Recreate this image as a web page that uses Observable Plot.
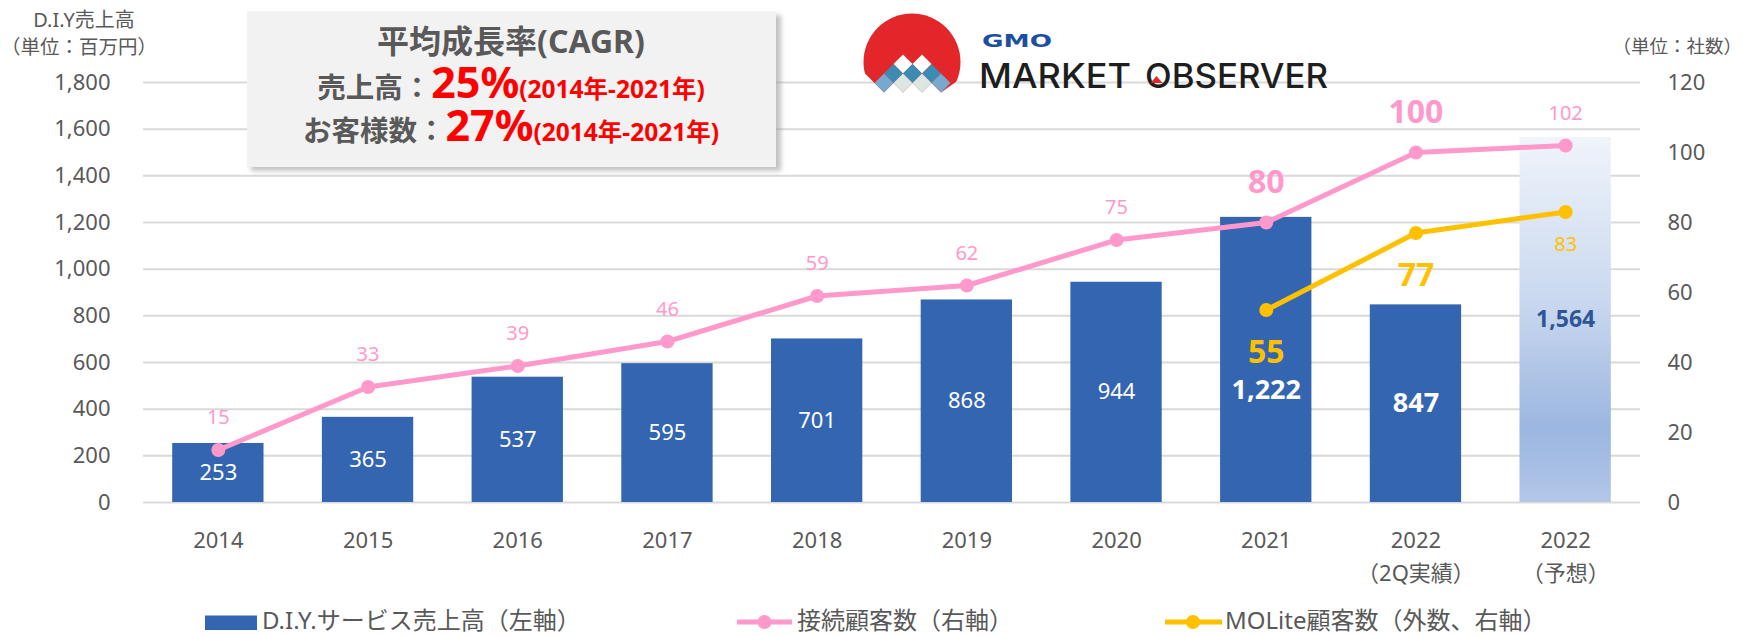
<!DOCTYPE html>
<html><head><meta charset="utf-8">
<script src="https://cdn.jsdelivr.net/npm/d3@7"></script>
<script src="https://cdn.jsdelivr.net/npm/@observablehq/plot@0.6"></script>
<style>
body{margin:0;background:#fff;}
#chart{position:relative;width:1742px;height:636px;overflow:hidden;}
</style>
</head><body><div id="chart"></div>
<script>
// ---- data ----
const categories = ["2014","2015","2016","2017","2018","2019","2020","2021","2022\n（2Q実績）","2022\n（予想）"];
const sales = [253,365,537,595,701,868,944,1222,847,1564];           // 百万円 (left axis)
const customers = [15,33,39,46,59,62,75,80,100,102];                 // 接続顧客数 (right axis)
const moliteCategories = ["2021","2022\n（2Q実績）","2022\n（予想）"];
const molite = [55,77,83];                                           // MOLite顧客数 (right axis)
const leftTicks = [0,200,400,600,800,1000,1200,1400,1600,1800];
const rightTicks = [0,20,40,60,80,100,120];
const legendLabels = ["D.I.Y.サービス売上高（左軸）","接続顧客数（右軸）","MOLite顧客数（外数、右軸）"];

const RATIO = leftTicks[leftTicks.length-1] / rightTicks[rightTicks.length-1];
const salesData = categories.map((c,i)=>({cat:c, v:sales[i]}));
const custData = categories.map((c,i)=>({cat:c, n:customers[i]}));
const molData = moliteCategories.map((c,i)=>({cat:c, n:molite[i]}));
const fmt = d3.format(",");

const FONT = '"Noto Sans", "Noto Sans CJK JP", sans-serif';
const BLUE = "#3465b0", PINK = "#ff99cc", GOLD = "#ffc000", GREY = "#595959";

const plot = Plot.plot({
  width:1742, height:636,
  marginLeft:143, marginRight:102, marginTop:82, marginBottom:134,
  style:{fontFamily:FONT, fontSize:"22px", color:GREY, background:"#fff", overflow:"visible"},
  x:{domain:categories, paddingInner:0.39, paddingOuter:0.195, round:false, label:null},
  y:{domain:[0,1800], label:null},
  marks:[
    Plot.gridY(leftTicks, {stroke:"#d9d9d9", strokeOpacity:1, strokeWidth:2}),
    Plot.barY(salesData.slice(0,9), {x:"cat", y:"v", fill:BLUE}),
    Plot.barY(salesData.slice(9), {x:"cat", y:"v", fill:"url(#forecastGrad)"}),
    Plot.axisY({anchor:"left", ticks:leftTicks, tickFormat:fmt, tickSize:0, tickPadding:33, fontSize:22, label:null}),
    Plot.axisY({anchor:"right", ticks:rightTicks.map(t=>t*RATIO), tickFormat:d=>String(Math.round(d/RATIO)), tickSize:0, tickPadding:27, fontSize:22, label:null}),
    Plot.axisX({tickSize:0, tickPadding:22, lineHeight:1.5, fontSize:22, label:null}),
    // bar labels
    Plot.text(salesData.slice(0,7), {x:"cat", y:d=>d.v/2, text:d=>fmt(d.v), fill:"#fff", fontSize:22}),
    Plot.text(salesData.slice(7,8), {x:"cat", y:d=>d.v/2, text:d=>fmt(d.v), fill:"#fff", fontSize:27, fontWeight:"bold", dy:30}),
    Plot.text(salesData.slice(8,9), {x:"cat", y:d=>d.v/2, text:d=>fmt(d.v), fill:"#fff", fontSize:27, fontWeight:"bold"}),
    Plot.text(salesData.slice(9), {x:"cat", y:d=>d.v/2, text:d=>fmt(d.v), fill:"#2f5597", fontSize:23, fontWeight:"bold"}),
    // lines
    Plot.line(custData, {x:"cat", y:d=>d.n*RATIO, stroke:PINK, strokeWidth:5}),
    Plot.dot(custData, {x:"cat", y:d=>d.n*RATIO, r:7, fill:PINK}),
    Plot.line(molData, {x:"cat", y:d=>d.n*RATIO, stroke:GOLD, strokeWidth:5}),
    Plot.dot(molData, {x:"cat", y:d=>d.n*RATIO, r:7, fill:GOLD}),
    // line labels
    Plot.text(custData.filter((d,i)=>i<7||i===9), {x:"cat", y:d=>d.n*RATIO, text:"n", fill:PINK, fontSize:20, dy:-32}),
    Plot.text(custData.filter((d,i)=>i===7||i===8), {x:"cat", y:d=>d.n*RATIO, text:"n", fill:PINK, fontSize:32, fontWeight:"bold", dy:-40}),
    Plot.text(molData.slice(0,2), {x:"cat", y:d=>d.n*RATIO, text:"n", fill:GOLD, fontSize:32, fontWeight:"bold", dy:43}),
    Plot.text(molData.slice(2), {x:"cat", y:d=>d.n*RATIO, text:"n", fill:GOLD, fontSize:20, dy:33})
  ]
});
document.getElementById("chart").appendChild(plot);

const svg = d3.select(plot);
const defs = svg.insert("defs", ":first-child");
const grad = defs.append("linearGradient").attr("id","forecastGrad").attr("x1",0).attr("y1",0).attr("x2",0).attr("y2",1);
[[0,"#f0f4fb"],[0.45,"#c9d8ef"],[0.8,"#9bb6e0"],[1,"#b3c7e8"]].forEach(([o,c])=>grad.append("stop").attr("offset",o).attr("stop-color",c));
const blur = defs.append("filter").attr("id","shadowBlur").attr("x","-10%").attr("y","-10%").attr("width","120%").attr("height","130%");
blur.append("feGaussianBlur").attr("stdDeviation",2.5);
const clip = defs.append("clipPath").attr("id","logoClip");
clip.append("polygon").attr("points","850,0 975,0 975,68.5 941,92.5 931.5,83 922,92.5 912.5,83 903,92.5 893.5,83 884,92.5 860,68.5");

const over = svg.append("g").attr("font-family", FONT).attr("text-anchor","start");

// axis titles
over.append("text").attr("x",84).attr("y",27).attr("text-anchor","middle").attr("font-size",20).attr("fill",GREY).text("D.I.Y売上高");
over.append("text").attr("x",79).attr("y",54).attr("text-anchor","middle").attr("font-size",19.5).attr("fill",GREY).text("（単位：百万円）");
over.append("text").attr("x",1742).attr("y",53).attr("text-anchor","end").attr("font-size",18.5).attr("fill",GREY).text("（単位：社数）");

// CAGR box
over.append("rect").attr("x",251).attr("y",15).attr("width",530).attr("height",156).attr("fill","#9a9a9a").attr("opacity",0.6).attr("filter","url(#shadowBlur)");
over.append("rect").attr("x",247).attr("y",11).attr("width",529).attr("height",156).attr("fill","#f2f2f2");
over.append("text").attr("x",511).attr("y",53).attr("text-anchor","middle").attr("font-size",32).attr("font-weight","bold").attr("fill",GREY).text("平均成長率(CAGR)");
function cagrLine(y, label, pct){
  const t = over.append("text").attr("x",511).attr("y",y).attr("text-anchor","middle").attr("font-weight","bold");
  t.append("tspan").attr("font-size",28.5).attr("fill",GREY).text(label+"：");
  t.append("tspan").attr("font-size",43).attr("fill","#ff0000").text(pct);
  t.append("tspan").attr("font-size",24.5).attr("fill","#ff0000").text("(2014年-2021年)");
}
cagrLine(98, "売上高", "25%");
cagrLine(141, "お客様数", "27%");

// logo
const logo = over.append("g");
logo.append("circle").attr("cx",912).attr("cy",62).attr("r",48.5).attr("fill","#e3262a").attr("clip-path","url(#logoClip)");
const d = 9.5;
function diamond(cx, cy, fill){
  logo.append("polygon").attr("points",`${cx},${cy-d} ${cx+d},${cy} ${cx},${cy+d} ${cx-d},${cy}`).attr("fill",fill);
}
diamond(903,64,"#ffffff"); diamond(922,64,"#ffffff");
diamond(893.5,73.5,"#3d8ab3"); diamond(912.5,73.5,"#3d8ab3"); diamond(931.5,73.5,"#3d8ab3");
diamond(884,83,"#78a8cc"); diamond(903,83,"#dde7e1"); diamond(922,83,"#dde7e1"); diamond(941,83,"#78a8cc");
logo.append("text").attr("x",982).attr("y",46.5).attr("font-family","DejaVu Sans").attr("font-weight","bold").attr("font-size",18).attr("fill","#1c4fa1").attr("textLength",70).attr("lengthAdjust","spacingAndGlyphs").text("GMO");
logo.append("text").attr("x",979).attr("y",88).attr("font-family","Inter, Lato, sans-serif").attr("font-weight",500).attr("font-size",34).attr("fill","#1e1e1e").attr("textLength",152).attr("lengthAdjust","spacingAndGlyphs").text("MARKET");
logo.append("text").attr("x",1145).attr("y",88).attr("font-family","Inter, Lato, sans-serif").attr("font-weight",500).attr("font-size",34).attr("fill","#1e1e1e").attr("textLength",183).attr("lengthAdjust","spacingAndGlyphs").text("OBSERVER");
logo.append("polygon").attr("points","1150.5,83 1162.5,83 1156.5,76").attr("fill","#e3262a");

// legend
const LY = 622;
over.append("rect").attr("x",205).attr("y",615.5).attr("width",52).attr("height",14.5).attr("fill",BLUE);
over.append("text").attr("x",262).attr("y",LY+7).attr("font-size",24).attr("fill",GREY).text(legendLabels[0]);
over.append("line").attr("x1",737).attr("x2",792).attr("y1",LY).attr("y2",LY).attr("stroke",PINK).attr("stroke-width",5);
over.append("circle").attr("cx",764.5).attr("cy",LY).attr("r",7).attr("fill",PINK);
over.append("text").attr("x",797).attr("y",LY+7).attr("font-size",24).attr("fill",GREY).text(legendLabels[1]);
over.append("line").attr("x1",1165).attr("x2",1222).attr("y1",LY).attr("y2",LY).attr("stroke",GOLD).attr("stroke-width",5);
over.append("circle").attr("cx",1193).attr("cy",LY).attr("r",7).attr("fill",GOLD);
over.append("text").attr("x",1225).attr("y",LY+7).attr("font-size",24).attr("fill",GREY).text(legendLabels[2]);
</script>
</body></html>
